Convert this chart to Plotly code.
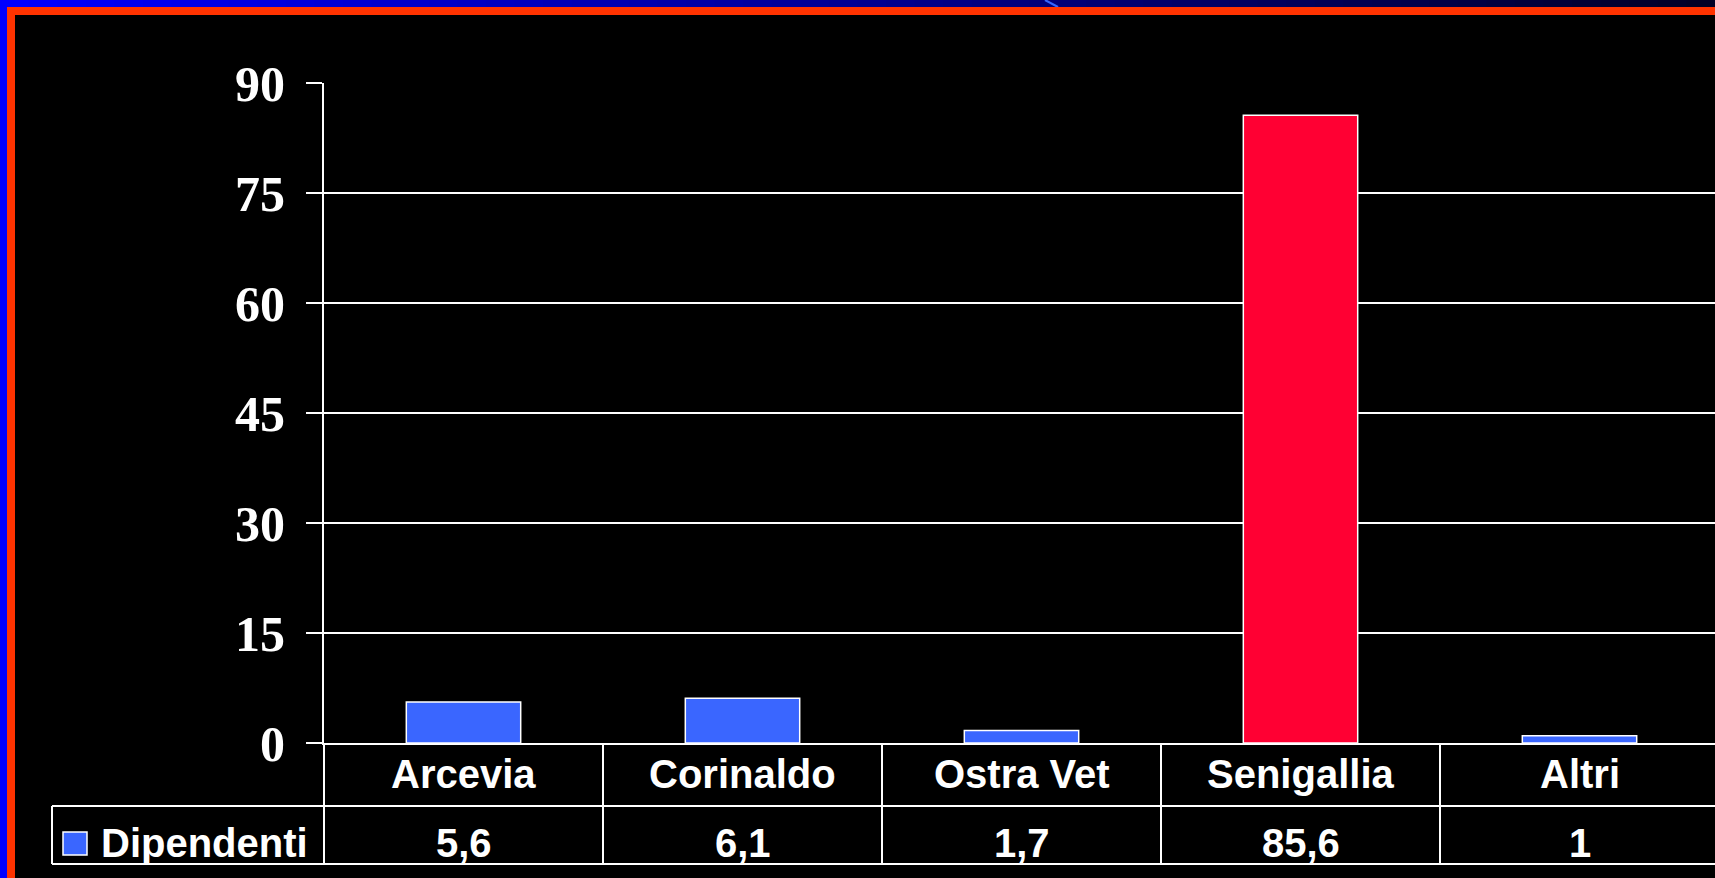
import plotly.graph_objects as go

categories = ["Arcevia", "Corinaldo", "Ostra Vet", "Senigallia", "Altri"]
values = [5.6, 6.1, 1.7, 85.6, 1]
value_labels = ["5,6", "6,1", "1,7", "85,6", "1"]
series_name = "Dipendenti"
y_ticks = [0, 15, 30, 45, 60, 75, 90]
bar_colors = ["#3A66FF", "#3A66FF", "#3A66FF", "#FF0033", "#3A66FF"]

W, H = 1715, 878
def py(y):
    return (H - y) / H

x_left = 324
col_w = 279
x_max = -0.5 + (W - x_left) / col_w

fig = go.Figure()
fig.add_trace(go.Bar(
    x=list(range(len(categories))), y=values, name=series_name,
    marker=dict(color=bar_colors, line=dict(color="white", width=1.5)),
    width=0.41, showlegend=False, hoverinfo="x+y",
))

shapes = []
# gradient top strip
n = 60
for i in range(n):
    x0 = W * i / n
    x1 = W * (i + 1) / n + 1
    b = int(255 - (x0 / W) * 220)
    shapes.append(dict(type="rect", xref="paper", yref="paper", x0=x0 / W, x1=min(x1 / W, 1),
                       y0=py(7), y1=1, fillcolor=f"rgb(0,0,{b})", line=dict(width=0)))
shapes.append(dict(type="line", xref="paper", yref="paper", x0=1045 / W, x1=1058 / W, y0=1, y1=py(7),
                   line=dict(color="#3366FF", width=2)))
# left blue strip
shapes.append(dict(type="rect", xref="paper", yref="paper", x0=0, x1=7 / W, y0=0, y1=1,
                   fillcolor="#0000FF", line=dict(width=0)))
# red frame
shapes.append(dict(type="rect", xref="paper", yref="paper", x0=7 / W, x1=1, y0=py(15), y1=py(7),
                   fillcolor="#FF3300", line=dict(width=0)))
shapes.append(dict(type="rect", xref="paper", yref="paper", x0=7 / W, x1=15 / W, y0=0, y1=py(7),
                   fillcolor="#FF3300", line=dict(width=0)))

# data table lines
lw = 2
shapes.append(dict(type="line", xref="paper", yref="paper", x0=52 / W, x1=1, y0=py(806), y1=py(806),
                   line=dict(color="white", width=lw)))
shapes.append(dict(type="line", xref="paper", yref="paper", x0=52 / W, x1=1, y0=py(864), y1=py(864),
                   line=dict(color="white", width=lw)))
shapes.append(dict(type="line", xref="paper", yref="paper", x0=52 / W, x1=52 / W, y0=py(864), y1=py(806),
                   line=dict(color="white", width=lw)))
shapes.append(dict(type="line", xref="paper", yref="paper", x0=x_left / W, x1=x_left / W, y0=py(864), y1=py(743),
                   line=dict(color="white", width=lw)))
for i in range(len(categories) - 1):
    shapes.append(dict(type="line", xref="x", yref="paper", x0=i + 0.5, x1=i + 0.5, y0=py(864), y1=py(743),
                       line=dict(color="white", width=lw)))
# legend key
shapes.append(dict(type="rect", xref="paper", yref="paper", x0=63 / W, x1=87 / W, y0=py(855), y1=py(832),
                   fillcolor="#3A66FF", line=dict(color="white", width=1.5)))

annotations = []
tfont = dict(family="Liberation Sans", size=40, color="white", weight="bold")
for i, c in enumerate(categories):
    annotations.append(dict(x=i, y=py(774), xref="x", yref="paper", text=c, showarrow=False,
                            font=tfont, xanchor="center", yanchor="middle"))
for i, v in enumerate(value_labels):
    annotations.append(dict(x=i, y=py(843), xref="x", yref="paper", text=v, showarrow=False,
                            font=tfont, xanchor="center", yanchor="middle"))
annotations.append(dict(x=99 / W, y=py(843), xref="paper", yref="paper", text=series_name, showarrow=False,
                        font=tfont, xanchor="left", yanchor="middle"))

fig.update_layout(
    template="none",
    width=W, height=H,
    margin=dict(l=0, r=0, t=0, b=0, pad=0, autoexpand=False),
    paper_bgcolor="black", plot_bgcolor="black",
    shapes=shapes, annotations=annotations,
    showlegend=False,
    xaxis=dict(domain=[x_left / W, 1], range=[-0.5, x_max], showticklabels=False, showgrid=False,
               zeroline=False, showline=True, linecolor="white", linewidth=2, ticks="",
               automargin=False),
    yaxis=dict(domain=[py(743), py(83)], range=[0, 90], tickvals=y_ticks,
               showgrid=True, gridcolor="white", gridwidth=2, zeroline=False,
               showline=True, linecolor="white", linewidth=2,
               ticks="outside", ticklen=16, tickcolor="white", tickwidth=2,
               ticklabelstandoff=11, automargin=False,
               tickfont=dict(family="Liberation Serif", size=50, color="white", weight="bold")),
)

fig.write_html(
    "out.html",
    config={"displayModeBar": False},
    post_script="document.body.style.margin='0';document.body.style.overflow='hidden';document.body.style.background='black';",
)
